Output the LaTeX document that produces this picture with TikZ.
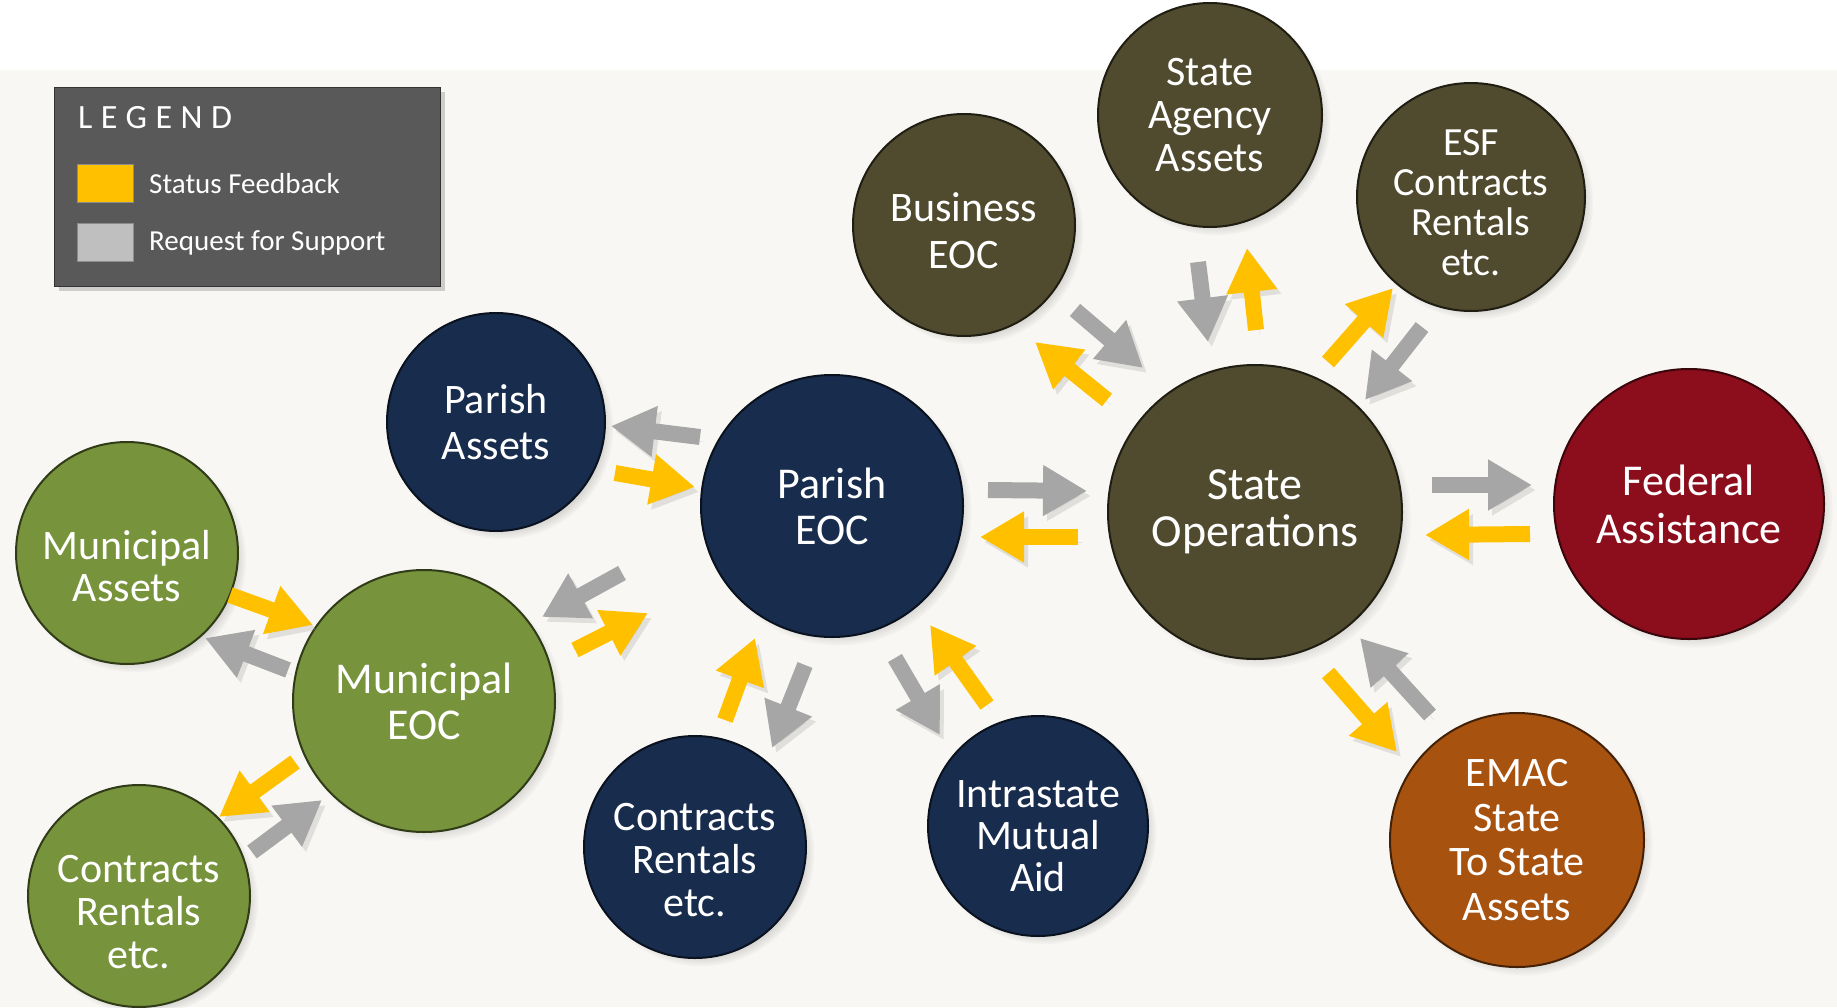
\documentclass[tikz,border=0pt]{standalone}
\usepackage{fontspec}
\setmainfont{Carlito}
\newfontfamily\legendfont[LetterSpace=25]{Carlito}
\usetikzlibrary{arrows.meta,shadows,positioning}

\definecolor{navyball}{RGB}{24,44,78}
\definecolor{oliveball}{RGB}{80,75,46}
\definecolor{greenball}{RGB}{119,147,60}
\definecolor{redball}{RGB}{140,14,28}
\definecolor{orangeball}{RGB}{168,82,16}
\definecolor{feedyellow}{RGB}{255,192,0}
\definecolor{reqgray}{RGB}{166,166,166}
\definecolor{bgcol}{RGB}{248,247,243}
\definecolor{legendfill}{RGB}{89,89,89}

% bevelled disc look
\colorlet{ballcol}{navyball}
\pgfdeclareradialshading[ballcol]{bevel}{\pgfpoint{0bp}{3bp}}{%
  color(0bp)=(ballcol); color(37bp)=(ballcol); color(43bp)=(ballcol!55!white);
  color(46.5bp)=(ballcol!85!black); color(50bp)=(ballcol!40!black); color(100bp)=(ballcol!40!black)}

% invisible strut to push a label down
\newcommand{\lift}[1]{\rule{0pt}{#1}}

\begin{document}
\begin{tikzpicture}[x=1pt, y=-1pt]
  \tikzset{bevel color/.code={\colorlet{ballcol}{#1}},
    ball/.style={circle, inner sep=0pt, align=center, text=white, bevel color=#1, shading=bevel,
      draw=#1!40!black, line width=2pt,
      circular drop shadow={shadow xshift=6pt, shadow yshift=-6pt, shadow scale=1.02, opacity=.45}}}
  \tikzstyle{arr} = [line width=16pt, -{Triangle[length=44pt, width=48pt]},
    preaction={draw=black!40, opacity=.25, transform canvas={xshift=4pt, yshift=-5pt}}]
  \tikzstyle{feed} = [arr, draw=feedyellow]
  \tikzstyle{req} = [arr, draw=reqgray]
  \tikzstyle{swatch} = [rectangle, minimum width=56pt, minimum height=38pt, inner sep=0pt, draw=black!45, line width=1pt]
  \tikzstyle{legtext} = [inner sep=0pt, text=white, font=\fontsize{29}{31}\selectfont]

  \useasboundingbox (0,0) rectangle (1837,1007);
  \fill[white] (0,0) rectangle (1837,70);
  \fill[bgcol] (0,70) rectangle (1837,1007);

  % legend
  \node (legend) [rectangle, fill=legendfill, draw=black!80, line width=1pt, minimum width=386pt, minimum height=199pt,
    anchor=north west, drop shadow={shadow xshift=4pt, shadow yshift=-4pt, opacity=.35}] at (54,87) {};
  \node (ltitle) [anchor=base west, inner sep=0pt, text=white, font=\legendfont\fontsize{34}{34}\selectfont] at (78,128) {LEGEND};
  \node (swfeed) [swatch, fill=feedyellow, anchor=north west] at (77,164) {};
  \node (swreq) [swatch, fill=black!25, below=20pt of swfeed] {};
  \node (lfeed) [legtext, right=15pt of swfeed] {Status Feedback};
  \node (lreq) [legtext, right=15pt of swreq] {Request for Support};

  % state side
  \node (beoc) [ball=oliveball, minimum size=222pt, font=\fontsize{42}{47}\selectfont] at (964,225) {\lift{41pt}Business\\EOC};
  \node (sagency) [ball=oliveball, minimum size=224pt, font=\fontsize{42}{43}\selectfont] at (1210,115) {State\\Agency\\Assets};
  \node (esf) [ball=oliveball, minimum size=228pt, font=\fontsize{40}{40}\selectfont] at (1471,197) {\lift{38pt}ESF\\Contracts\\Rentals\\etc.};
  \node (sops) [ball=oliveball, minimum size=294pt, font=\fontsize{46}{47}\selectfont] at (1255,512) {State\\Operations};
  \node (fed) [ball=redball, minimum size=270pt, font=\fontsize{44}{48}\selectfont] at (1689,504) {Federal\\Assistance};
  \node (emac) [ball=orangeball, minimum size=254pt, font=\fontsize{42}{44.5}\selectfont] at (1517,840) {EMAC\\State\\To State\\Assets};

  % parish side
  \node (passets) [ball=navyball, minimum size=218pt, font=\fontsize{42}{46}\selectfont] at (496,422) {Parish\\Assets};
  \node (peoc) [ball=navyball, minimum size=262pt, font=\fontsize{44}{46}\selectfont] at (832,506) {Parish\\EOC};
  \node (pcontr) [ball=navyball, minimum size=222pt, font=\fontsize{42}{43}\selectfont] at (695,847) {\lift{53pt}Contracts\\Rentals\\etc.};
  \node (intra) [ball=navyball, minimum size=220pt, font=\fontsize{42}{42}\selectfont] at (1038,826) {\lift{47pt}Intrastate\\Mutual\\Aid};

  % municipal side
  \node (massets) [ball=greenball, minimum size=222pt, font=\fontsize{42}{42}\selectfont] at (127,553) {\lift{56pt}Municipal\\Assets};
  \node (meoc) [ball=greenball, minimum size=262pt, font=\fontsize{44}{46}\selectfont] at (424,701) {Municipal\\EOC};
  \node (mcontr) [ball=greenball, minimum size=222pt, font=\fontsize{42}{43}\selectfont] at (139,896) {\lift{59pt}Contracts\\Rentals\\etc.};

  % arrow pairs
  \draw [req] ([shift={(-132,-69)}]peoc.center) -- ([shift={(115,4)}]passets.center);
  \draw [feed] ([shift={(119,51)}]passets.center) -- ([shift={(-137,-19)}]peoc.center);
  \draw [req] ([shift={(156,-16)}]peoc.center) -- ([shift={(-168,-21)}]sops.center);
  \draw [feed] ([shift={(-177,25)}]sops.center) -- ([shift={(148,31)}]peoc.center);
  \draw [req] ([shift={(177,-27)}]sops.center) -- ([shift={(-157,-19)}]fed.center);
  \draw [feed] ([shift={(-159,30)}]fed.center) -- ([shift={(170,23)}]sops.center);
  \draw [req] ([shift={(111,85)}]beoc.center) -- ([shift={(-112,-144)}]sops.center);
  \draw [feed] ([shift={(-148,-112)}]sops.center) -- ([shift={(71,117)}]beoc.center);
  \draw [req] ([shift={(-12,147)}]sagency.center) -- ([shift={(-47,-170)}]sops.center);
  \draw [feed] ([shift={(1,-182)}]sops.center) -- ([shift={(37,133)}]sagency.center);
  \draw [feed] ([shift={(73,-150)}]sops.center) -- ([shift={(-78,91)}]esf.center);
  \draw [req] ([shift={(-49,130)}]esf.center) -- ([shift={(110,-112)}]sops.center);
  \draw [req] ([shift={(-87,-125)}]emac.center) -- ([shift={(105,126)}]sops.center);
  \draw [feed] ([shift={(73,161)}]sops.center) -- ([shift={(-120,-88)}]emac.center);
  \draw [req] ([shift={(63,152)}]peoc.center) -- ([shift={(-98,-91)}]intra.center);
  \draw [feed] ([shift={(-51,-121)}]intra.center) -- ([shift={(98,119)}]peoc.center);
  \draw [feed] ([shift={(30,-127)}]pcontr.center) -- ([shift={(-77,132)}]peoc.center);
  \draw [req] ([shift={(-27,159)}]peoc.center) -- ([shift={(77,-99)}]pcontr.center);
  \draw [req] ([shift={(-210,67)}]peoc.center) -- ([shift={(118,-84)}]meoc.center);
  \draw [feed] ([shift={(151,-51)}]meoc.center) -- ([shift={(-184,107)}]peoc.center);
  \draw [feed] ([shift={(103,42)}]massets.center) -- ([shift={(-111,-76)}]meoc.center);
  \draw [req] ([shift={(-136,-31)}]meoc.center) -- ([shift={(78,85)}]massets.center);
  \draw [feed] ([shift={(-129,61)}]meoc.center) -- ([shift={(80,-79)}]mcontr.center);
  \draw [req] ([shift={(113,-44)}]mcontr.center) -- ([shift={(-102,99)}]meoc.center);
\end{tikzpicture}
\end{document}
